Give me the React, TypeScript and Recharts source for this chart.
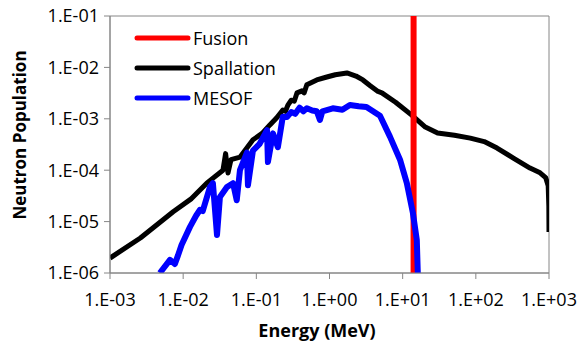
import { LineChart, Line, XAxis, YAxis, ReferenceArea, Legend } from 'recharts';

// energy (MeV) and neutron population per series
const spallationE = [
  0.001, 0.0026, 0.0073, 0.013, 0.021, 0.035, 0.038, 0.041, 0.045, 0.06, 0.09, 0.12, 0.153, 0.19,
  0.23, 0.25, 0.27, 0.3, 0.33, 0.36, 0.42, 0.45, 0.49, 0.67, 0.92, 1.2, 1.73, 2.3, 2.86, 3.6, 4.6,
  5.2, 8.0, 13.3, 20.4, 30, 51, 84, 130, 195, 330, 550, 755, 900, 975, 995, 1000,
];
const spallationN = [
  1.95e-6, 4.8e-6, 1.55e-5, 2.8e-5, 5.6e-5, 1.0e-4, 2.1e-4, 8.8e-5, 1.6e-4, 1.8e-4, 3.9e-4, 5.2e-4,
  7.6e-4, 1.05e-3, 1.48e-3, 1.4e-3, 1.85e-3, 2.3e-3, 2.2e-3, 3.2e-3, 3.5e-3, 3.2e-3, 4.6e-3, 5.7e-3,
  6.5e-3, 7.2e-3, 7.8e-3, 6.8e-3, 5.7e-3, 4.4e-3, 3.4e-3, 3.2e-3, 2.1e-3, 1.18e-3, 6.9e-4, 5.3e-4,
  4.8e-4, 4.2e-4, 3.6e-4, 2.7e-4, 1.7e-4, 1.1e-4, 8.9e-5, 7.2e-5, 5.0e-5, 2.0e-5, 6.3e-6,
];

const mesofE = [
  0.0048, 0.0066, 0.0077, 0.0085, 0.0095, 0.0124, 0.015, 0.017, 0.0185, 0.0232, 0.0255, 0.029,
  0.0318, 0.0397, 0.048, 0.054, 0.0597, 0.0744, 0.0768, 0.0899, 0.11, 0.14, 0.144, 0.169, 0.197,
  0.23, 0.262, 0.3, 0.34, 0.39, 0.44, 0.49, 0.58, 0.67, 0.74, 0.8, 1.11, 1.5, 1.9, 2.5, 3.2, 4.9,
  6.7, 9.2, 11.4, 13.8, 15.6, 16.1,
];
const mesofN = [
  1.0e-6, 1.8e-6, 1.5e-6, 2.2e-6, 3.5e-6, 7.9e-6, 1.3e-5, 1.7e-5, 1.6e-5, 4.7e-5, 5.6e-5, 5.5e-6,
  3.0e-5, 4.7e-5, 5.6e-5, 2.6e-5, 1.0e-4, 2.2e-4, 5.1e-5, 2.4e-4, 3.2e-4, 6.0e-4, 1.44e-4, 5.2e-4,
  2.8e-4, 1.1e-3, 1.08e-3, 1.35e-3, 1.25e-3, 1.65e-3, 1.4e-3, 1.6e-3, 1.45e-3, 1.4e-3, 9.5e-4,
  1.4e-3, 1.6e-3, 1.5e-3, 1.86e-3, 1.75e-3, 1.7e-3, 1.15e-3, 4.5e-4, 1.6e-4, 5.6e-5, 1.47e-5,
  4.4e-6, 1.0e-6,
];

const fusionE = [14.1, 14.1];
const fusionN = [1e-6, 1e-1];

const xTicks = [1e-3, 1e-2, 1e-1, 1, 10, 100, 1000];
const yTicks = [1e-6, 1e-5, 1e-4, 1e-3, 1e-2, 1e-1];

const legendItems = [
  { name: 'Fusion', color: '#ff0000' },
  { name: 'Spallation', color: '#000000' },
  { name: 'MESOF', color: '#0000ff' },
];

const toPoints = (e: number[], n: number[]) => e.map((x, i) => ({ energy: x, population: n[i] }));

const fmtExp = (v: number) => {
  const p = Math.round(Math.log10(v));
  return `1.E${p < 0 ? '-' : '+'}${String(Math.abs(p)).padStart(2, '0')}`;
};

const FONT = '"Open Sans", sans-serif';
const AXIS = '#868686';

const LegendBox = () => (
  <svg width={170} height={90}>
    {legendItems.map((item, i) => (
      <g key={item.name}>
        <line x1={9} x2={60} y1={11 + i * 30} y2={11 + i * 30} stroke={item.color} strokeWidth={5} strokeLinecap="round" />
        <text x={65} y={11 + i * 30} dominantBaseline="central" fontSize={18} fontFamily={FONT} fill="#000">
          {item.name}
        </text>
      </g>
    ))}
  </svg>
);

const App = () => {
  return (
    <div style={{ position: 'absolute', left: 0, top: 0, background: '#fff' }}>
      <LineChart width={579} height={343} margin={{ top: 16, right: 30, left: 0, bottom: 0 }}>
        <XAxis
          dataKey="energy"
          type="number"
          scale="log"
          domain={[1e-3, 1e3]}
          ticks={xTicks}
          tickFormatter={fmtExp}
          allowDataOverflow
          height={70}
          stroke={AXIS}
          tickSize={6}
          tickMargin={14}
          tick={{ fill: '#000', fontSize: 18, fontFamily: FONT }}
          label={{
            content: () => (
              <text x={317} y={330} textAnchor="middle" dominantBaseline="central" fontSize={18} fontWeight="bold" fontFamily={FONT}>
                Energy (MeV)
              </text>
            ),
          }}
        />
        <YAxis
          dataKey="population"
          type="number"
          scale="log"
          domain={[1e-6, 1e-1]}
          ticks={yTicks}
          tickFormatter={fmtExp}
          allowDataOverflow
          width={110}
          stroke={AXIS}
          tickSize={6}
          tickMargin={5}
          tick={{ fill: '#000', fontSize: 18, fontFamily: FONT }}
          label={{
            content: () => (
              <text
                x={19}
                y={135}
                transform="rotate(-90 19 135)"
                textAnchor="middle"
                dominantBaseline="central"
                fontSize={17}
                fontWeight="bold"
                fontFamily={FONT}
              >
                Neutron Population
              </text>
            ),
          }}
        />
        <ReferenceArea x1={1e-3} x2={1e3} y1={1e-6} y2={1e-1} fill="none" stroke={AXIS} strokeWidth={1} />
        <Line
          data={toPoints(spallationE, spallationN)}
          dataKey="population"
          name="Spallation"
          stroke="#000000"
          strokeWidth={5}
          strokeLinejoin="round"
          dot={false}
          isAnimationActive={false}
        />
        <Line
          data={toPoints(fusionE, fusionN)}
          dataKey="population"
          name="Fusion"
          stroke="#ff0000"
          strokeWidth={6}
          dot={false}
          isAnimationActive={false}
        />
        <Line
          data={toPoints(mesofE, mesofN)}
          dataKey="population"
          name="MESOF"
          stroke="#0000ff"
          strokeWidth={6}
          strokeLinejoin="round"
          dot={false}
          isAnimationActive={false}
        />
        <Legend
          layout="vertical"
          align="center"
          verticalAlign="middle"
          content={() => <LegendBox />}
          wrapperStyle={{ left: 128, top: 27, width: 'auto', height: 'auto' }}
        />
      </LineChart>
    </div>
  );
};

export default App;
